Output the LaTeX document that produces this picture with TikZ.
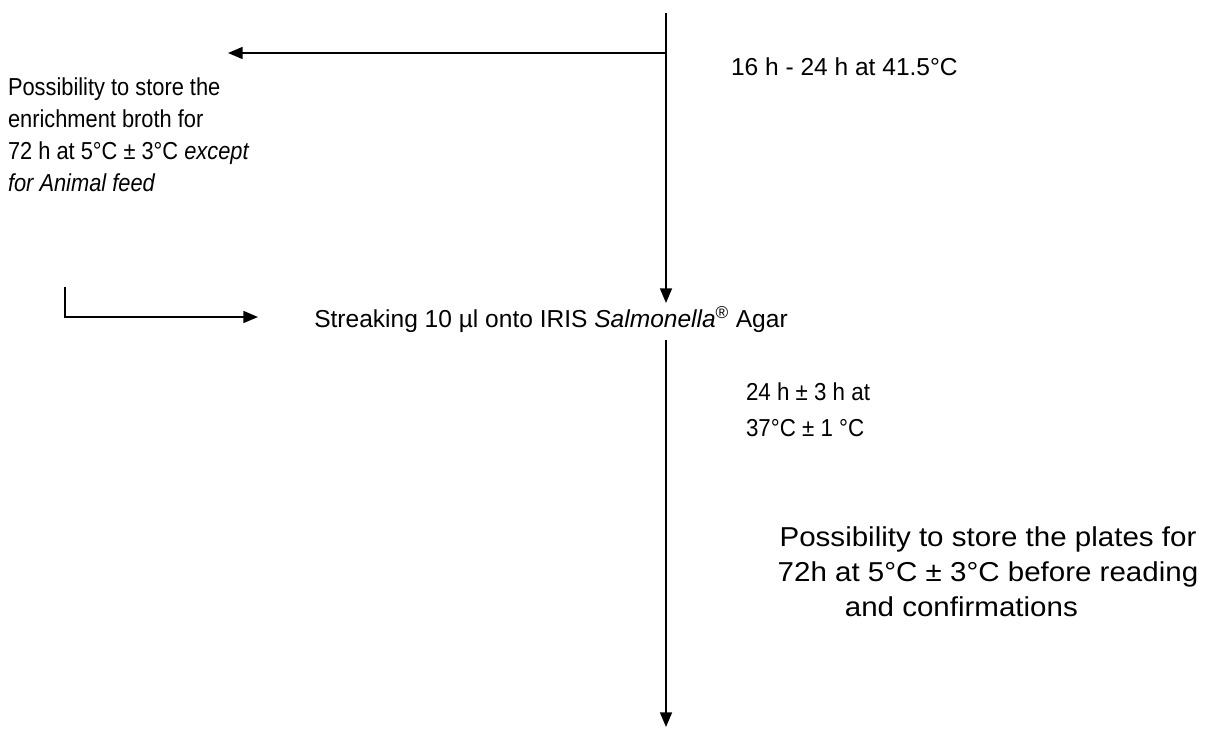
\documentclass[tikz,border=0pt]{standalone}
\usepackage{fontspec}
\setmainfont{Liberation Sans}
\newfontfamily\narrowfont[FakeStretch=0.89]{Liberation Sans}
\newfontfamily\midfont[FakeStretch=0.91]{Liberation Sans}
\newfontfamily\widefont[FakeStretch=1.08]{Liberation Sans}
\usetikzlibrary{arrows.meta}
\begin{document}
\begin{tikzpicture}[x=0.75pt,y=-0.75pt,
  conn/.style={line width=1.2pt,black},
  arr/.style={conn,-{Triangle[length=11pt,width=9pt]}},
  txt/.style={inner sep=0pt,outer sep=0pt,font=\fontsize{18.4}{24}\selectfont},
  txtn/.style={inner sep=0pt,outer sep=0pt,font=\narrowfont\fontsize{18.4}{24}\selectfont},
  txtm/.style={inner sep=0pt,outer sep=0pt,font=\midfont\fontsize{18.4}{26.5}\selectfont},
  txtw/.style={inner sep=0pt,outer sep=0pt,font=\widefont\fontsize{20.5}{26}\selectfont}]
\useasboundingbox (0,0) rectangle (1216,735);
% texts
\node[txt,anchor=base west] (inc1) at (731,75) {16 h - 24 h at 41.5°C};
\node[txtn,anchor=north west,align=left] (store1) at (8,78)
  {Possibility to store the\\enrichment broth for\\72 h at 5°C ± 3°C \textit{except}\\\textit{for Animal feed}};
\node[txt,anchor=base] (st) at (551,327) {Streaking 10 µl onto IRIS \textit{Salmonella}\textsuperscript{®} Agar};
\node[txtm,anchor=north west,align=left] (inc2) at (746,383) {24 h ± 3 h at\\37°C ± 1 °C};
\node[txtw,anchor=north,align=center] (store2) at (988,527)
  {Possibility to store the plates for\\72h at 5°C ± 3°C before reading\\and confirmations\hspace*{40pt}};
% connectors
\coordinate (top) at (666,13);
\coordinate (br) at (666,53);
\coordinate (brtip) at (228,53);
\coordinate (sttip) at (666,303);
\coordinate (lA) at (65,287);
\coordinate (lB) at (65,317);
\coordinate (lC) at (258,317);
\coordinate (low) at (666,340);
\coordinate (lowtip) at (666,727);
\draw[arr] (top) -- (sttip);
\draw[arr] (br) -- (brtip);
\draw[arr] (lA) -- (lB) -- (lC);
\draw[arr] (low) -- (lowtip);
\end{tikzpicture}
\end{document}
